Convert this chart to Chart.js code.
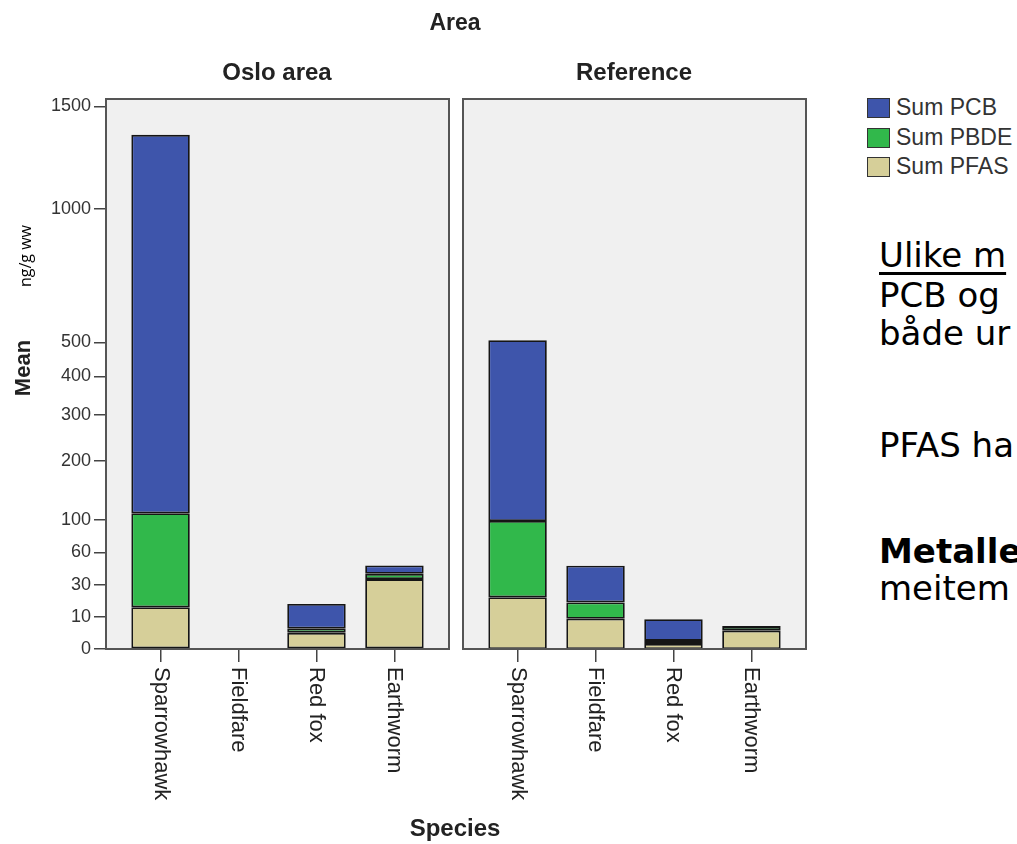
<!DOCTYPE html>
<html><head><meta charset="utf-8">
<script src="https://cdn.jsdelivr.net/npm/chart.js@4.4.1/dist/chart.umd.min.js"></script>
<style>
html,body{margin:0;padding:0;width:1017px;height:844px;overflow:hidden;background:#fff;}
body{position:relative;font-family:"Liberation Sans",Arial,sans-serif;color:#222;}
canvas{position:absolute;top:0;}
.t{position:absolute;white-space:nowrap;line-height:1;}
.c{transform:translate(-50%,-50%);}
.b{font-weight:bold;}
.rot{transform:translate(-50%,-50%) rotate(-90deg);}
.leg{position:absolute;left:867px;font-size:23px;color:#333;white-space:nowrap;line-height:19px;}
.leg span.sw{display:inline-block;width:21px;height:18px;border:1px solid #333;vertical-align:top;margin-right:6px;}
.side{position:absolute;left:879px;font-family:"DejaVu Sans",Verdana,sans-serif;font-size:34px;line-height:34px;color:#000;white-space:nowrap;}
</style></head><body>
<canvas id="left" width="460" height="844" style="left:0"></canvas>
<canvas id="right" width="362" height="844" style="left:455px"></canvas>

<div class="t c b" style="left:455px;top:22px;font-size:23px;">Area</div>
<div class="t c b" style="left:277px;top:72px;font-size:24px;">Oslo area</div>
<div class="t c b" style="left:634px;top:72px;font-size:24px;">Reference</div>
<div class="t c b" style="left:455px;top:828px;font-size:24px;">Species</div>
<div class="t rot b" style="left:23px;top:368px;font-size:22px;">Mean</div>
<div class="t rot" style="left:25px;top:256px;font-size:16px;font-family:'Open Sans','Noto Sans',sans-serif;color:#000;">ng/g ww</div>

<div id="legend"></div>

<div class="side" style="top:238px;text-decoration:underline;text-underline-offset:5px;">Ulike m</div>
<div class="side" style="top:278px;">PCB og</div>
<div class="side" style="top:316px;">både ur</div>
<div class="side" style="top:428px;">PFAS ha</div>
<div class="side" style="top:534px;font-weight:bold;">Metalle</div>
<div class="side" style="top:571px;">meitem</div>

<script>
// ---- data ----
const species = ["Sparrowhawk", "Fieldfare", "Red fox", "Earthworm"];
const seriesNames = ["Sum PCB", "Sum PBDE", "Sum PFAS"];
const seriesColors = ["#3e55ab", "#31b84b", "#d6cf99"];
const osloPCB  = [1241, null, 11.6, 7.7];
const osloPBDE = [95,   null, 1.4,  4.5];
const osloPFAS = [15,   null, 3.8,  34.5];
const refPCB   = [408, 28.6, 7.4, 0.4];
const refPBDE  = [78,  8.6,  0.7, 1.3];
const refPFAS  = [21,  9.2,  0.9, 4.5];
const yTicks = [0, 10, 30, 60, 100, 200, 300, 400, 500, 1000, 1500];
const yMax = 1540;

// ---- square-root (shifted) scale ----
const SHIFT = 1.3;
const fwd = v => Math.sqrt(Math.max(v, 0) + SHIFT) - Math.sqrt(SHIFT);
const inv = f => Math.pow(f + Math.sqrt(SHIFT), 2) - SHIFT;
class SqrtScale extends Chart.LinearScale {
  buildTicks() { return yTicks.map(v => ({value: v})); }
  getPixelForValue(value) {
    if (value === null || value === undefined || isNaN(value)) return NaN;
    const a = fwd(this.min), b = fwd(this.max);
    return this.getPixelForDecimal((fwd(value) - a) / (b - a));
  }
  getValueForPixel(pixel) {
    const a = fwd(this.min), b = fwd(this.max);
    return inv(a + this.getDecimalForPixel(pixel) * (b - a));
  }
}
SqrtScale.id = 'sqrtshift';
SqrtScale.defaults = Chart.LinearScale.defaults;
Chart.register(SqrtScale);

// legend (HTML)
const legend = document.getElementById('legend');
seriesNames.forEach((n, i) => {
  const d = document.createElement('div');
  d.className = 'leg';
  d.style.top = (98 + i * 29.5) + 'px';
  d.innerHTML = '<span class="sw" style="background:' + seriesColors[i] + '"></span>' + n;
  legend.appendChild(d);
});

const framePlugin = {
  id: 'frame',
  beforeDraw(chart) {
    const {ctx, chartArea: a} = chart;
    ctx.save();
    ctx.fillStyle = '#f0f0f0';
    ctx.fillRect(a.left, a.top, a.right - a.left, a.bottom - a.top);
    ctx.restore();
  },
  afterDraw(chart) {
    const {ctx, chartArea: a} = chart;
    ctx.save();
    ctx.strokeStyle = '#555';
    ctx.lineWidth = 2;
    ctx.strokeRect(a.left, a.top, a.right - a.left, a.bottom - a.top);
    // x labels rotated clockwise
    const xs = chart.scales.x;
    ctx.fillStyle = '#222';
    ctx.font = '22px "Liberation Sans", Arial, sans-serif';
    ctx.textAlign = 'left';
    ctx.textBaseline = 'middle';
    xs.ticks.forEach(t => {
      const x = xs.getPixelForValue(t.value);
      ctx.save();
      ctx.translate(x, a.bottom + 18);
      ctx.rotate(Math.PI / 2);
      ctx.fillText(species[t.value], 0, 0);
      ctx.restore();
    });
    ctx.restore();
  }
};

function makeChart(id, pcb, pbde, pfas, showY, padLeft, padRight) {
  const pts = arr => arr.map((v, i) => ({x: i, y: v}));
  const mk = (label, arr, color) => ({
    label, data: pts(arr), backgroundColor: color, borderColor: '#151515',
    borderWidth: 1.8, borderSkipped: false, barPercentage: 0.75, categoryPercentage: 1
  });
  return new Chart(document.getElementById(id), {
    type: 'bar',
    data: {
      datasets: [
        mk(seriesNames[2], pfas, seriesColors[2]),
        mk(seriesNames[1], pbde, seriesColors[1]),
        mk(seriesNames[0], pcb, seriesColors[0])
      ]
    },
    options: {
      responsive: false, animation: false, devicePixelRatio: 1,
      layout: {padding: {left: padLeft, right: padRight, top: 99, bottom: 0}},
      plugins: {legend: {display: false}, tooltip: {enabled: false}},
      scales: {
        x: {
          type: 'linear', stacked: true, min: -0.7, max: 3.7, offset: false, grace: 0,
          afterBuildTicks: s => { s.ticks = species.map((_, i) => ({value: i})); },
          afterFit: s => { s.height = 195; },
          ticks: {display: false, includeBounds: false},
          grid: {offset: false, drawOnChartArea: false, drawTicks: true, tickLength: 13, color: '#444', lineWidth: 1.5},
          border: {display: false}
        },
        y: {
          type: 'sqrtshift', stacked: true, min: 0, max: yMax, display: showY,
          afterFit: s => { s.width = showY ? 106 : 0; },
          ticks: {autoSkip: false, padding: 3, color: '#333',
            font: {family: '"Liberation Sans", Arial, sans-serif', size: 18},
            callback: v => String(v)},
          grid: {drawOnChartArea: false, drawTicks: true, tickLength: 12, color: '#444', lineWidth: 1.5},
          border: {display: false}
        }
      }
    },
    plugins: [framePlugin]
  });
}

makeChart('left', osloPCB, osloPBDE, osloPFAS, true, 0, 11);
makeChart('right', refPCB, refPBDE, refPFAS, false, 8, 11);
</script>
</body></html>
